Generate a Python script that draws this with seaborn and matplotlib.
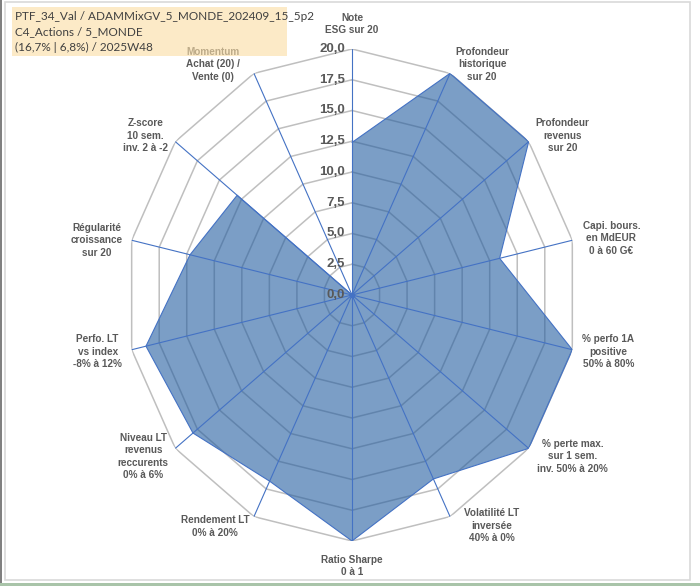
import numpy as np
import pandas as pd
import matplotlib
matplotlib.use('Agg')
import matplotlib.pyplot as plt
import seaborn as sns
from matplotlib.patches import Rectangle

# Radar data: 14 criteria, score out of 20
criteria = [
    'Note\nESG sur 20',
    'Profondeur\nhistorique\nsur 20',
    'Profondeur\nrevenus\nsur 20',
    'Capi. bours.\nen MdEUR\n0 à 60 G€',
    '% perfo 1A\npositive\n50% à 80%',
    '% perte max.\nsur 1 sem.\ninv. 50% à 20%',
    'Volatilité LT\ninversée\n40% à 0%',
    'Ratio Sharpe\n0 à 1',
    'Rendement LT\n0% à 20%',
    'Niveau LT\nrevenus\nreccurents\n0% à 6%',
    'Perfo. LT\nvs index\n-8% à 12%',
    'Régularité\ncroissance\nsur 20',
    'Z-score\n10 sem.\ninv. 2 à -2',
    'Momentum\nAchat (20) /\nVente (0)',
]
scores = [12.4, 20.0, 20.0, 13.4, 20.0, 20.0, 16.6, 20.0, 16.8, 18.0, 18.7, 14.7, 13.0, 0.0]
ring_levels = [2.5, 5.0, 7.5, 10.0, 12.5, 15.0, 17.5, 20.0]
tick_levels = [0.0, 2.5, 5.0, 7.5, 10.0, 12.5, 15.0, 17.5, 20.0]
title_lines = ['PTF_34_Val / ADAMMixGV_5_MONDE_202409_15_5p2',
               'C4_Actions / 5_MONDE',
               '(16,7% | 6,8%) / 2025W48']

# label offsets in pixels from the outer vertex of each axis
label_offsets = [(0, 25), (32, 9), (34, 6), (39, 2), (36, -2), (44, -8), (42, -9),
                 (0, -25), (-39, -10), (-32, -8), (-34, -2), (-35, 0), (-30, 6), (-41, 9)]

sns.set_theme(style='white')
plt.rcParams['font.family'] = ['Lato', 'DejaVu Sans']
label_font = ['Liberation Sans', 'DejaVu Sans']

n = len(criteria)
angles = np.arange(n) * 2 * np.pi / n
df = pd.DataFrame({'angle': np.append(angles, angles[0]),
                   'score': np.append(scores, scores[0])})

fig = plt.figure(figsize=(7.0, 5.86), dpi=100)
ax = fig.add_axes([0.18, 0.0768, 0.6457, 0.8396], projection='polar')
ax.set_aspect('auto')
ax.set_theta_zero_location('N')
ax.set_theta_direction(-1)
ax.set_ylim(0, 20)
ax.grid(False)
ax.spines['polar'].set_visible(False)
ax.set_xticks([])
ax.set_yticks([])
ax.set_facecolor('none')

grid_gray = '#BFBFBF'
blue = '#4472C4'
closed = np.append(angles, angles[0])
for lev in ring_levels:
    ax.plot(closed, [lev] * len(closed), color=grid_gray, lw=1.1, zorder=1)

ax.fill(df['angle'], df['score'], color='#235DA0', alpha=0.6, lw=0, zorder=2)
sns.lineplot(data=df, x='angle', y='score', sort=False, ax=ax, color=blue, lw=0.8, zorder=3)
ax.set_xlabel('')
ax.set_ylabel('')

for a in angles:
    ax.plot([a, a], [0, 20], color=blue, lw=0.8, zorder=4)
ax.plot([0], [0], marker='o', ms=3, color=blue, zorder=5)

for lev in tick_levels:
    ax.annotate(f'{lev:.1f}'.replace('.', ','), xy=(0, lev), xytext=(-7, 0),
                textcoords='offset pixels', ha='right', va='center', family=label_font,
                fontsize=9.5, color='#595959', fontweight='bold', zorder=6)

for a, lab, off in zip(angles, criteria, label_offsets):
    ax.annotate(lab, xy=(a, 20), xytext=off, textcoords='offset pixels',
                ha='center', va='center', fontsize=7.2, fontweight='bold', family=label_font,
                color='#595959', linespacing=1.3, annotation_clip=False, zorder=6)

# frame and title box
fig.patches.append(Rectangle((5 / 700, 6 / 586), 685 / 700, 578 / 586, transform=fig.transFigure,
                             fill=False, edgecolor='#D9D9D9', lw=1.2))
fig.patches.append(Rectangle((0, 0), 1.5 / 700, 1, transform=fig.transFigure,
                             facecolor='#808080', edgecolor='none'))
fig.patches.append(Rectangle((0, 0), 1, 3 / 586, transform=fig.transFigure,
                             facecolor='#A9C4A9', edgecolor='none'))
fig.patches.append(Rectangle((12 / 700, 1 - 56 / 586), 275 / 700, 49 / 586, transform=fig.transFigure,
                             facecolor='#FBDEA6', alpha=0.62, edgecolor='none', zorder=10))
for i, line in enumerate(title_lines):
    fig.text(15 / 700, 1 - (17 + 15 * i) / 586, line, ha='left', va='center',
             fontsize=8.5, color='#404040', zorder=11)

plt.savefig('out.png', dpi=100)
plt.close()
